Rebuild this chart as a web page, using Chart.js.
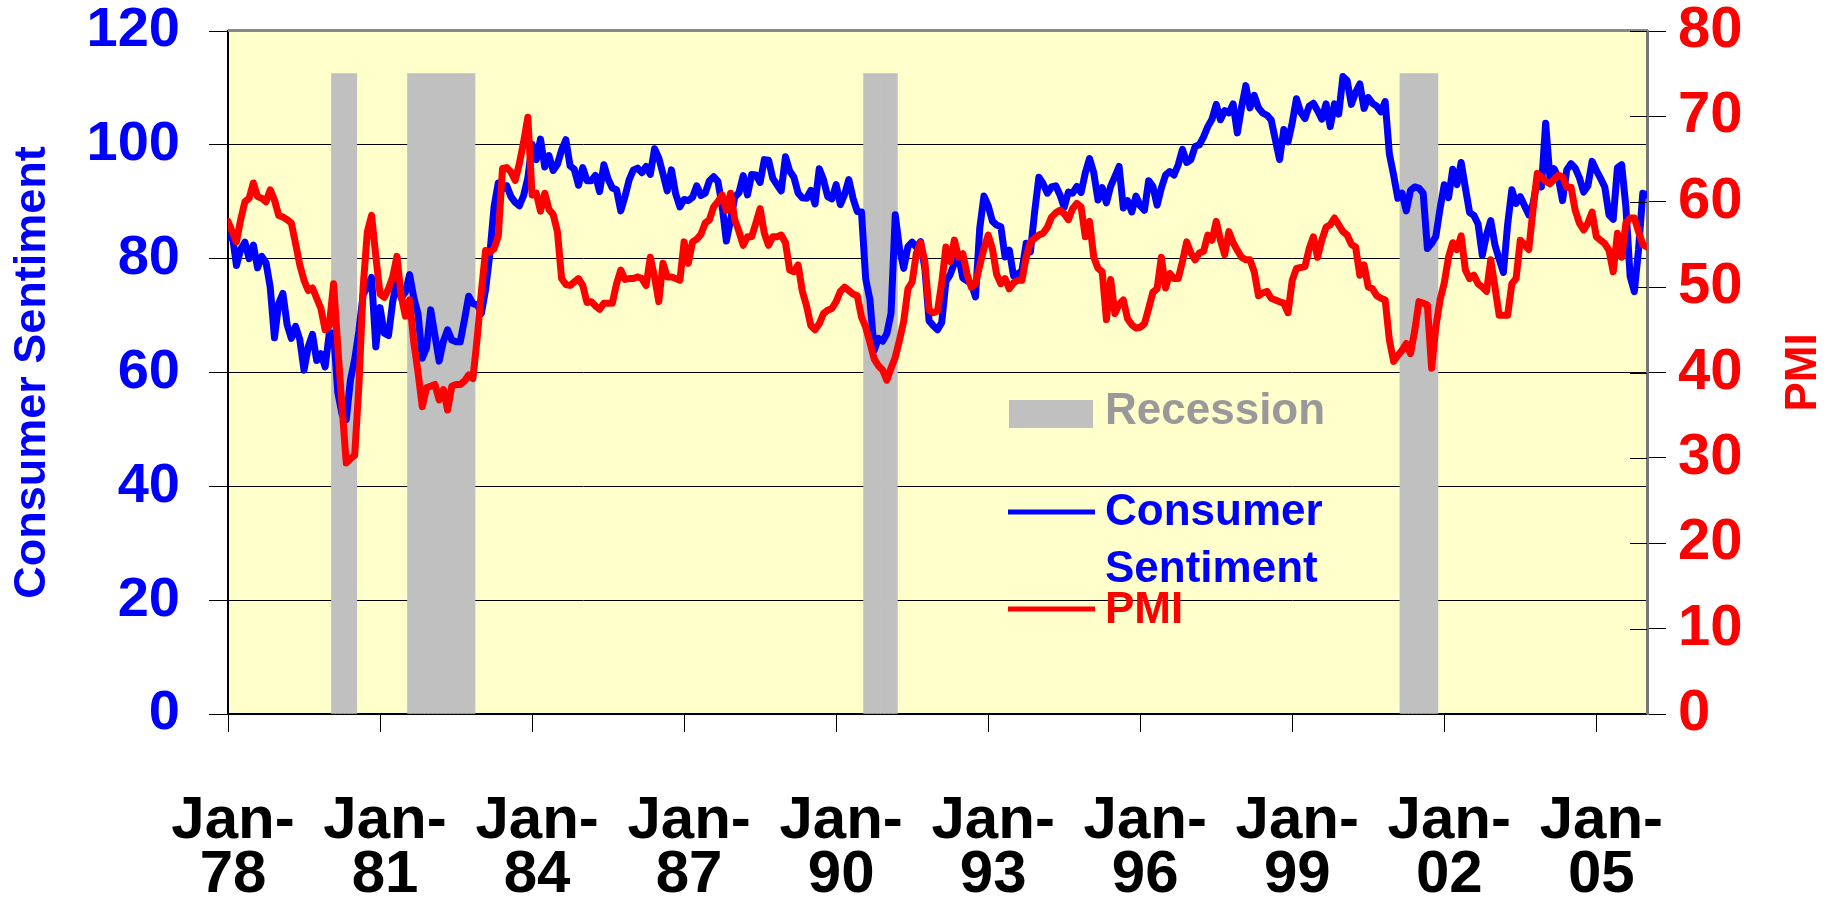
<!DOCTYPE html>
<html>
<head>
<meta charset="utf-8">
<title>Consumer Sentiment vs PMI</title>
<script src="https://cdn.jsdelivr.net/npm/chart.js@4.4.1/dist/chart.umd.min.js"></script>
<style>
  html, body { margin: 0; padding: 0; background: #ffffff; }
  canvas { display: block; }
</style>
</head>
<body>
<canvas id="chart" width="1837" height="898"></canvas>
<script>
// monthly values, Jan 1978 .. Jan 2006
var startYear = 1978;

var sentiment = [
  83.7, 84.3, 78.8, 81.6, 82.9, 80.0, 82.4, 78.4, 80.4, 79.3, 75.0, 66.1,
  72.1, 73.9, 68.4, 66.0, 68.1, 65.8, 60.4, 64.5, 66.7, 62.1, 63.3, 61.0,
  67.0, 66.9, 56.5, 52.7, 51.7, 58.7, 62.3, 67.3, 73.7, 75.0, 76.7, 64.5,
  71.4, 66.9, 66.5, 72.4, 76.3, 73.1, 74.1, 77.2, 73.1, 70.3, 62.5, 64.3,
  71.0, 66.5, 62.0, 65.5, 67.5, 65.7, 65.4, 65.4, 69.3, 73.4, 72.1, 71.9,
  70.4, 74.6, 80.8, 89.1, 93.3, 92.2, 92.8, 90.9, 89.9, 89.3, 91.1, 94.2,
  100.1, 97.4, 101.0, 96.1, 98.1, 95.5, 96.6, 99.1, 100.9, 96.3, 95.7, 92.9,
  96.0, 93.7, 93.7, 94.6, 91.8, 96.5, 94.0, 92.4, 92.1, 88.4, 90.9, 93.9,
  95.6, 95.9, 95.1, 96.2, 94.8, 99.3, 97.7, 94.9, 91.9, 95.6, 91.4, 89.1,
  90.4, 90.2, 90.8, 92.8, 91.1, 91.5, 93.7, 94.4, 93.6, 89.3, 83.1, 86.8,
  90.8, 91.6, 94.6, 91.2, 94.8, 94.7, 93.4, 97.4, 97.3, 94.1, 93.0, 91.9,
  97.9, 95.4, 94.3, 91.5, 90.7, 90.6, 92.0, 89.6, 95.8, 93.9, 90.9, 90.5,
  93.0, 89.5, 91.3, 93.9, 90.6, 88.3, 88.2, 76.4, 72.8, 63.9, 66.0, 65.5,
  66.8, 70.4, 87.7, 81.8, 78.3, 82.1, 82.9, 82.0, 83.0, 78.3, 69.1, 68.2,
  67.5, 68.8, 76.0, 77.2, 79.2, 80.4, 76.6, 76.1, 75.6, 73.3, 85.3, 91.0,
  89.3, 86.6, 85.9, 85.6, 80.3, 81.5, 77.0, 77.3, 77.9, 82.7, 81.2, 88.2,
  94.3, 93.2, 91.5, 92.6, 92.8, 91.2, 89.0, 91.7, 91.5, 92.7, 91.6, 95.1,
  97.6, 95.1, 90.3, 92.5, 89.8, 92.7, 94.4, 96.2, 88.9, 90.2, 88.2, 91.0,
  89.3, 88.5, 93.7, 92.7, 89.4, 92.4, 94.7, 95.3, 94.7, 96.5, 99.2, 96.9,
  97.4, 99.7, 100.0, 101.4, 103.2, 104.5, 107.1, 104.4, 106.0, 105.6, 107.2, 102.1,
  106.6, 110.4, 106.5, 108.7, 106.5, 105.6, 105.2, 104.4, 100.9, 97.4, 102.7, 100.5,
  103.9, 108.1, 105.7, 104.6, 106.8, 107.3, 106.0, 104.5, 107.2, 103.2, 107.2, 105.4,
  112.0, 111.3, 107.1, 109.2, 110.7, 106.4, 108.3, 107.3, 106.8, 105.8, 107.6, 98.4,
  94.7, 90.6, 91.5, 88.4, 92.0, 92.6, 92.4, 91.5, 81.8, 82.7, 83.9, 88.8,
  93.0, 90.7, 95.7, 93.0, 96.9, 92.4, 88.1, 87.6, 86.1, 80.6, 84.2, 86.7,
  82.4, 79.9, 77.6, 86.0, 92.1, 89.7, 90.9, 89.3, 87.7, 89.6, 93.7, 92.6,
  103.8, 94.4, 95.8, 94.2, 90.2, 95.6, 96.7, 95.9, 94.2, 91.7, 92.8, 97.1,
  95.5, 94.1, 92.6, 87.7, 86.9, 96.0, 96.5, 89.1, 76.9, 74.2, 81.6, 91.5,
  91.2
];

var pmi = [
  57.7, 56.5, 55.3, 57.9, 60.0, 60.4, 62.2, 60.6, 60.4, 60.0, 61.4, 60.2,
  58.4, 58.2, 57.9, 57.5, 55.1, 52.6, 50.8, 49.6, 49.9, 48.7, 47.5, 45.0,
  45.5, 50.4, 43.0, 36.0, 29.4, 29.9, 30.3, 38.5, 50.0, 56.5, 58.4, 53.6,
  49.2, 48.8, 49.8, 51.2, 53.6, 49.0, 46.6, 48.5, 43.5, 40.0, 36.0, 38.2,
  38.4, 38.6, 36.8, 38.0, 35.6, 38.4, 38.6, 38.6, 39.0, 39.7, 39.3, 44.0,
  49.5, 54.3, 54.1, 54.5, 56.0, 63.9, 64.0, 63.5, 62.5, 64.5, 67.0, 69.9,
  60.8, 61.0, 58.9, 61.0, 59.1, 58.5, 56.5, 51.0, 50.3, 50.2, 50.6, 51.0,
  50.2, 48.2, 48.3, 47.8, 47.4, 48.1, 48.1, 48.1, 50.4, 52.0, 50.9, 51.0,
  51.0, 51.2, 51.0, 50.2, 53.5, 51.2, 48.3, 52.8, 51.2, 51.2, 51.0, 50.8,
  55.3, 52.8, 55.3, 55.6, 56.2, 57.5, 57.9, 59.4, 60.0, 60.8, 59.0, 61.0,
  57.9, 56.5, 54.9, 55.9, 55.9, 57.5, 59.2, 56.3, 54.9, 55.9, 55.9, 56.1,
  55.2, 52.0, 51.8, 52.6, 49.5, 47.8, 45.5, 45.0, 45.7, 46.9, 47.3, 47.5,
  48.3, 49.5, 50.0, 49.6, 49.2, 49.0, 46.5, 45.3, 43.5, 41.6, 40.8, 40.3,
  39.1, 40.5, 41.8, 43.8, 46.0, 49.8, 50.6, 54.0, 55.2, 53.0, 47.3, 47.0,
  47.2, 50.5, 54.7, 53.0, 55.5, 53.5, 53.9, 51.5, 50.0, 50.4, 52.5, 54.5,
  56.1, 54.5, 51.5, 50.4, 51.0, 49.8, 50.5, 50.8, 50.8, 53.5, 55.3, 55.7,
  56.1, 56.3, 57.0, 58.2, 58.7, 59.0, 58.6, 57.9, 59.2, 59.8, 59.4, 55.9,
  57.7, 53.5, 52.2, 51.8, 46.2, 50.9, 46.9, 48.0, 48.5, 46.3, 45.6, 45.2,
  45.3, 45.7, 47.5, 49.4, 49.8, 53.5, 49.9, 51.6, 51.0, 51.0, 53.0, 55.3,
  54.0, 53.2, 54.0, 54.2, 56.1, 55.5, 57.7, 55.5, 53.8, 56.5, 55.2, 54.3,
  53.5, 53.2, 53.2, 51.8, 49.0, 49.3, 49.5, 48.7, 48.5, 48.3, 48.1, 47.0,
  50.8, 52.2, 52.3, 52.4, 54.5, 55.9, 53.5, 55.5, 57.0, 57.3, 58.1, 57.3,
  56.5, 56.1, 55.0, 54.7, 51.4, 52.6, 50.0, 49.8, 49.0, 48.7, 48.5, 43.8,
  41.3, 42.0, 42.6, 43.4, 42.2, 44.9, 48.3, 48.1, 47.9, 40.5, 45.3, 48.5,
  50.5, 53.5, 55.2, 54.4, 56.0, 52.0, 51.0, 51.4, 50.4, 50.0, 49.5, 53.2,
  50.0, 46.7, 46.7, 46.7, 50.4, 51.0, 55.5, 55.0, 54.4, 59.0, 63.3, 62.9,
  62.4, 62.1, 62.6, 63.1, 62.9, 61.7, 61.7, 59.0, 57.5, 56.7, 57.5, 58.8,
  55.9, 55.5, 55.1, 54.3, 51.8, 56.3, 53.5, 57.5, 58.1, 58.1, 56.5, 55.0,
  54.7
];

// recession months (first, last), shaded up to 75 on the PMI axis
var recessions = [
  ["1980-02", "1980-07"],
  ["1981-08", "1982-11"],
  ["1990-08", "1991-03"],
  ["2001-03", "2001-11"]
];
var recessionHeight = 75;

var leftTicks = { min: 0, max: 120, step: 20 };
var rightTicks = { min: 0, max: 80, step: 10 };
var xTickEvery = 36;

function monthIndex(s) {
  var p = s.split("-");
  return (parseInt(p[0], 10) - startYear) * 12 + parseInt(p[1], 10) - 1;
}

var lastIndex = sentiment.length - 1;

var sentimentPoints = sentiment.map(function (v, i) { return { x: i, y: v }; });
var pmiPoints = pmi.map(function (v, i) { return { x: i, y: v }; });
var recessionPoints = [];
recessions.forEach(function (r) {
  for (var i = monthIndex(r[0]); i <= monthIndex(r[1]); i++) {
    recessionPoints.push({ x: i, y: recessionHeight });
  }
});

var FONT = "'Liberation Sans', Arial, sans-serif";

// keep the tick-label overflow from pushing the plot area down
function noVerticalPadding(s) {
  s.paddingTop = 0;
  s.paddingBottom = 0;
}

var decor = {
  id: "decor",
  beforeDraw: function (chart) {
    var a = chart.chartArea;
    var c = chart.ctx;
    c.save();
    c.fillStyle = "#FFFFCC";
    c.fillRect(a.left, a.top, a.right - a.left, a.bottom - a.top);
    c.restore();
  },
  afterDraw: function (chart) {
    var a = chart.chartArea;
    var c = chart.ctx;
    var yR = chart.scales.yR;
    c.save();

    // top frame
    c.strokeStyle = "#888888";
    c.lineWidth = 3;
    c.beginPath();
    c.moveTo(a.left, a.top - 0.5);
    c.lineTo(a.right + 1, a.top - 0.5);
    c.stroke();

    // right axis ticks cross into the plot
    c.strokeStyle = "#000000";
    c.lineWidth = 1;
    yR.ticks.forEach(function (t) {
      var y = Math.round(yR.getPixelForValue(t.value)) + 0.5;
      c.beginPath();
      c.moveTo(a.right - 17, y);
      c.lineTo(a.right, y);
      c.stroke();
    });

    // PMI axis title (reads bottom to top)
    c.fillStyle = "#FF0000";
    c.font = "bold 44px " + FONT;
    c.textAlign = "center";
    c.textBaseline = "middle";
    c.translate(1804, (a.top + a.bottom) / 2);
    c.rotate(-Math.PI / 2);
    c.fillText("PMI", 0, 0);
    c.setTransform(1, 0, 0, 1, 0, 0);

    // legend
    c.textAlign = "left";
    c.textBaseline = "alphabetic";
    c.font = "bold 44px " + FONT;

    c.fillStyle = "#C0C0C0";
    c.fillRect(1009, 400, 84, 28);
    c.fillStyle = "#999999";
    c.fillText("Recession", 1105, 424);

    c.lineWidth = 5;
    c.strokeStyle = "#0000FF";
    c.beginPath();
    c.moveTo(1008, 512);
    c.lineTo(1095, 512);
    c.stroke();
    c.fillStyle = "#0000FF";
    c.fillText("Consumer", 1105, 525);
    c.fillText("Sentiment", 1105, 582);

    c.strokeStyle = "#FF0000";
    c.beginPath();
    c.moveTo(1008, 609);
    c.lineTo(1095, 609);
    c.stroke();
    c.fillStyle = "#FF0000";
    c.fillText("PMI", 1105, 623);

    c.restore();
  }
};

var ctx = document.getElementById("chart").getContext("2d");
var myChart = new Chart(ctx, {
  type: "line",
  data: {
    datasets: [
      {
        label: "PMI",
        data: pmiPoints,
        yAxisID: "yR",
        borderColor: "rgb(255, 0, 0)",
        borderWidth: 7,
        pointRadius: 0,
        tension: 0,
        borderJoinStyle: "round",
        borderCapStyle: "round",
        order: 0
      },
      {
        label: "Consumer Sentiment",
        data: sentimentPoints,
        yAxisID: "y",
        borderColor: "rgb(0, 0, 255)",
        borderWidth: 7,
        pointRadius: 0,
        tension: 0,
        borderJoinStyle: "round",
        borderCapStyle: "round",
        order: 1
      },
      {
        type: "bar",
        label: "Recession",
        data: recessionPoints,
        yAxisID: "yR",
        backgroundColor: "rgb(192, 192, 192)",
        borderWidth: 0,
        barPercentage: 1,
        categoryPercentage: 1,
        order: 2
      }
    ]
  },
  options: {
    responsive: false,
    devicePixelRatio: 1,
    animation: false,
    layout: { padding: { top: 31, left: 0, right: 0, bottom: 0 } },
    plugins: {
      legend: { display: false },
      tooltip: { enabled: false }
    },
    scales: {
      x: {
        type: "linear",
        min: 0,
        max: lastIndex,
        offset: false,
        grid: { offset: false, drawOnChartArea: false, tickLength: 18, tickColor: "#000000", tickWidth: 1 },
        border: { color: "#000000", width: 2 },
        ticks: {
          stepSize: xTickEvery,
          includeBounds: false,
          autoSkip: false,
          maxRotation: 0,
          padding: 63,
          labelOffset: 5,
          color: "#000000",
          font: { family: FONT, size: 60, weight: "bold", lineHeight: 0.89 },
          callback: function (value) {
            var yr = startYear + value / 12;
            return ["Jan-", String(yr).slice(2)];
          }
        },
        afterFit: function (s) { s.height = 184; }
      },
      y: {
        position: "left",
        min: leftTicks.min,
        max: leftTicks.max,
        grid: { color: "#000000", lineWidth: 1, tickLength: 19, tickColor: "#000000" },
        border: { color: "#000000", width: 2 },
        ticks: {
          stepSize: leftTicks.step,
          padding: 29,
          color: "#0000FF",
          font: { family: FONT, size: 56, weight: "bold", lineHeight: 1 }
        },
        title: {
          display: true,
          text: "Consumer Sentiment",
          color: "#0000FF",
          padding: { top: 6, bottom: 0 },
          font: { family: FONT, size: 45, weight: "bold" }
        },
        afterFit: function (s) { s.width = 228; noVerticalPadding(s); }
      },
      yR: {
        position: "right",
        min: rightTicks.min,
        max: rightTicks.max,
        grid: { drawOnChartArea: false, tickLength: 19, tickColor: "#000000" },
        border: { color: "#777777", width: 3 },
        ticks: {
          stepSize: rightTicks.step,
          padding: 12,
          color: "#FF0000",
          font: { family: FONT, size: 58, weight: "bold", lineHeight: 1 }
        },
        afterFit: function (s) { s.width = 190; noVerticalPadding(s); }
      }
    }
  },
  plugins: [decor]
});
</script>
</body>
</html>
